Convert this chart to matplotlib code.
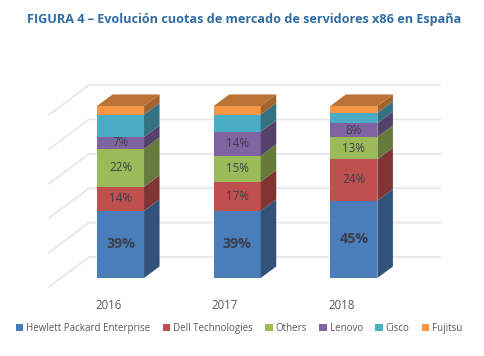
import matplotlib
matplotlib.use("Agg")
import matplotlib.pyplot as plt
from matplotlib.patches import Polygon, Patch
from matplotlib.colors import to_rgb

years = ["2016", "2017", "2018"]
series_names = ["Hewlett Packard Enterprise", "Dell Technologies", "Others", "Lenovo", "Cisco", "Fujitsu"]
hpe = [39, 39, 45]
dell = [14, 17, 24]
others = [22, 15, 13]
lenovo = [7, 14, 8]
cisco = [13, 10, 6]
fujitsu = [5, 5, 4]
series = [hpe, dell, others, lenovo, cisco, fujitsu]
colors = ["#4a7ebb", "#c0504d", "#9bbb59", "#8064a2", "#4bacc6", "#f79646"]
show_label = [True, True, True, True, False, False]
grid_ticks = [0, 20, 40, 60, 80, 100]

W, H = 484, 356
plt.rcParams["font.family"] = ["Open Sans", "DejaVu Sans"]
fig = plt.figure(figsize=(W / 100, H / 100), dpi=100, facecolor="white")
ax = fig.add_axes([49 / W, 1 - 278 / H, (440 - 49) / W, 193 / H], facecolor="none")
ax.set_xlim(-0.613, 2.738)
ax.set_ylim(0, 112.2)

BAR_W = 0.403
DX, DY = 0.133, 6.7
WALL_X = -0.613 + 40 / 116.67
WALL_BACK = 12.2
WALL_FRONT = -5.2
GRID = "#e6e6ec"

for t in grid_ticks:
    ax.plot([-0.613, WALL_X, 2.738], [t + WALL_FRONT, t + WALL_BACK, t + WALL_BACK],
            color=GRID, lw=1.2, clip_on=False, zorder=1)


def shade(c, f):
    return tuple(v * f for v in to_rgb(c))


bottoms = [0, 0, 0]
for vals, col, name, show in zip(series, colors, series_names, show_label):
    for i, v in enumerate(vals):
        b = bottoms[i]
        r = i + BAR_W / 2
        ax.bar(i, v, BAR_W, bottom=b, color=col, linewidth=0, zorder=3, clip_on=False)
        ax.add_patch(Polygon([(r, b), (r + DX, b + DY), (r + DX, b + v + DY), (r, b + v)],
                             closed=True, fc=shade(col, 0.66), ec="none", zorder=3, clip_on=False))
        if show:
            big = name == series_names[0]
            ax.text(i, b + v / 2, f"{v}%", ha="center", va="center",
                    fontsize=10.3 if big else 8.4, fontweight="bold" if big else "normal",
                    color="#3a3f4a", zorder=5)
        bottoms[i] = b + v
for i, total in enumerate(bottoms):
    l, r = i - BAR_W / 2, i + BAR_W / 2
    ax.add_patch(Polygon([(l, total), (r, total), (r + DX, total + DY), (l + DX, total + DY)],
                         closed=True, fc=shade(colors[-1], 0.76), ec="none", zorder=4, clip_on=False))

ax.set_xticks([i - 0.105 for i in range(len(years))], years)
ax.set_yticks([])
ax.tick_params(axis="x", length=0, pad=15, labelsize=8.3, labelcolor="#595959")
for s in ax.spines.values():
    s.set_visible(False)

handles = [Patch(fc=c, ec="none") for c in colors]
leg = fig.legend(handles, series_names, ncol=6, loc="center", bbox_to_anchor=(0.494, 1 - 328.5 / H),
                 frameon=False, fontsize=7.0, labelcolor="#595959", handlelength=0.75, handleheight=0.75,
                 handletextpad=0.3, columnspacing=1.28, borderpad=0, borderaxespad=0)

fig.text(0.505, 1 - 20 / H, "FIGURA 4 – Evolución cuotas de mercado de servidores x86 en España",
         ha="center", va="center", fontsize=9.1, fontweight="bold", color="#2e6ca5")

fig.savefig("out.png", dpi=100, facecolor="white")
